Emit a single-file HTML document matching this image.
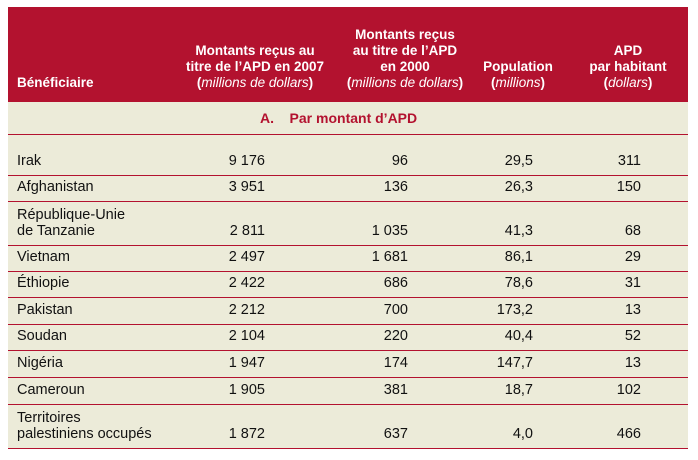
<!DOCTYPE html>
<html><head><meta charset="utf-8"><style>
body{margin:0;width:698px;height:460px;background:#fff;font-family:"Liberation Sans",sans-serif;position:relative;overflow:hidden}
#hdr{position:absolute;left:8px;top:7px;width:680px;height:95px;background:#b3122f}
#body{position:absolute;left:8px;top:102px;width:680px;height:347px;background:#ecebd9}
.h{position:absolute;color:#fff;font-weight:bold;font-size:13.5px;line-height:16px;text-align:center;white-space:nowrap}
.h i{font-weight:normal}
.t{position:absolute;font-size:14.5px;color:#111;line-height:16px;white-space:nowrap}
.r{text-align:right}
.ln{position:absolute;left:8px;width:680px;height:1px;background:#b3122f}
</style></head><body>
<div id="hdr"></div>
<div id="body"></div>
<div class="h" style="left:17px;top:75px;text-align:left">Bénéficiaire</div>
<div class="h" style="left:175px;top:43px;width:160px">Montants reçus au<br>titre de l’APD en 2007<br>(<i>millions de dollars</i>)</div>
<div class="h" style="left:325px;top:27px;width:160px">Montants reçus<br>au titre de l’APD<br>en 2000<br>(<i>millions de dollars</i>)</div>
<div class="h" style="left:470px;top:59px;width:96px">Population<br>(<i>millions</i>)</div>
<div class="h" style="left:580px;top:43px;width:96px">APD<br>par habitant<br>(<i>dollars</i>)</div>
<div class="t" style="left:260px;top:110px;color:#b3122f;font-weight:bold;font-size:14px">A.&nbsp;&nbsp;&nbsp;&nbsp;Par montant d’APD</div>
<div id="rows"></div>
<script>
const names=["Irak","Afghanistan","République-Unie|de Tanzanie","Vietnam","Éthiopie","Pakistan","Soudan","Nigéria","Cameroun","Territoires|palestiniens occupés"];
const apd2007=["9 176","3 951","2 811","2 497","2 422","2 212","2 104","1 947","1 905","1 872"];
const apd2000=["96","136","1 035","1 681","686","700","220","174","381","637"];
const pop=["29,5","26,3","41,3","86,1","78,6","173,2","40,4","147,7","18,7","4,0"];
const perCap=["311","150","68","29","31","13","52","13","102","466"];
const rowBottoms=[175,201,245,271,297,324,350,377,404,448];
const R=document.getElementById('rows');
function add(html,cls,style,name){const d=document.createElement('div');d.className=cls;d.style.cssText=style;d.innerHTML=html;


R.appendChild(d);}
add('','ln','top:134px','section-rule');
names.forEach((n,i)=>{const b=rowBottoms[i];const y=b-22;
 const parts=n.split('|');
 if(parts.length>1){add(parts[0],'t','left:17px;top:'+(y-16)+'px','country-name');add(parts[1],'t','left:17px;top:'+y+'px','country-name');}
 else add(n,'t','left:17px;top:'+y+'px','country-name');
 add(apd2007[i],'t r','left:165px;width:100px;top:'+y+'px','apd-2007-value');
 add(apd2000[i],'t r','left:308px;width:100px;top:'+y+'px','apd-2000-value');
 add(pop[i],'t r','left:433px;width:100px;top:'+y+'px','population-value');
 add(perCap[i],'t r','left:541px;width:100px;top:'+y+'px','apd-per-capita-value');
 add('','ln','top:'+b+'px','row-rule');
});
</script>
</body></html>
